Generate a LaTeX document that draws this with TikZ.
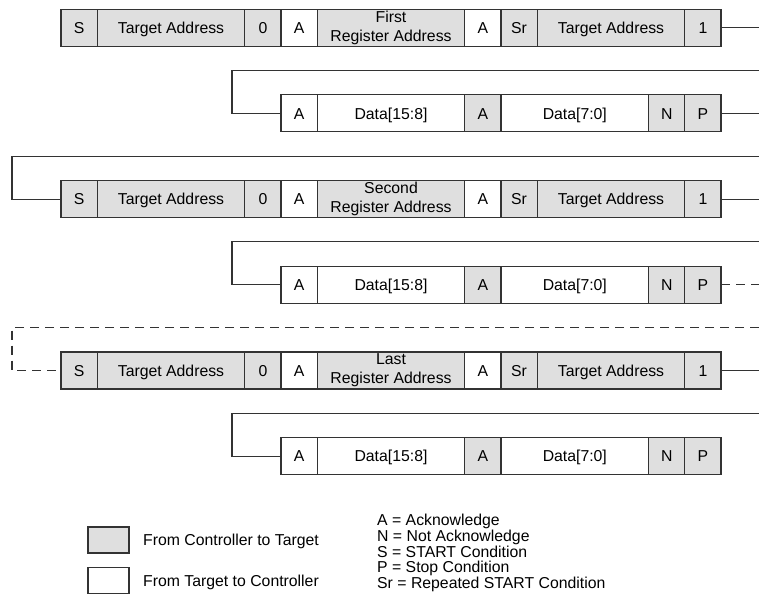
\documentclass[tikz,border=0pt]{standalone}
\usepackage{fontspec}
\setmainfont{Liberation Sans}
\usetikzlibrary{positioning}

\begin{document}
\begin{tikzpicture}[
  x=1pt, y=-1pt,
  every node/.style={align=center, inner sep=0pt, font=\fontsize{15.8}{19}\selectfont},
  cell/.style={draw=black!80, line width=1.1pt, minimum height=37pt, outer sep=0pt},
  nbox/.style={cell, minimum width=36.2pt, text height=11.3pt, text depth=0pt},
  wbox/.style={cell, minimum width=147.6pt, text height=11.3pt, text depth=0pt},
  rbox/.style={cell, minimum width=147.6pt},
  ctl/.style={fill=gray!25},
  note/.style={text height=11.3pt, text depth=0pt},
  link/.style={draw=black!80, line width=1.1pt},
  gap/.style={link, dash pattern=on 9pt off 6pt}
]
\useasboundingbox (0,0) rectangle (759,607);
% Row 1: write first register address, read back
\node[nbox, ctl, anchor=west] (s1) at (61,27.7) {S};
\node[wbox, ctl, right=0pt of s1] (ta1) {Target Address};
\node[nbox, ctl, right=0pt of ta1] (w1) {0};
\node[nbox, right=0pt of w1] (a1) {A};
\node[rbox, ctl, right=0pt of a1] (reg1) {First\\Register Address};
\node[nbox, right=0pt of reg1] (ra1) {A};
\node[nbox, ctl, right=0pt of ra1] (sr1) {Sr};
\node[wbox, ctl, right=0pt of sr1] (tb1) {Target Address};
\node[nbox, ctl, right=0pt of tb1] (rd1) {1};
% Row 2
\node[nbox, anchor=west] (da2) at (281,113.4) {A};
\node[wbox, right=0pt of da2] (hi2) {Data[15:8]};
\node[nbox, ctl, right=0pt of hi2] (ha2) {A};
\node[wbox, right=0pt of ha2] (lo2) {Data[7:0]};
\node[nbox, ctl, right=0pt of lo2] (n2) {N};
\node[nbox, ctl, right=0pt of n2] (p2) {P};
% Row 3
\node[nbox, ctl, anchor=west] (s3) at (61,199.1) {S};
\node[wbox, ctl, right=0pt of s3] (ta3) {Target Address};
\node[nbox, ctl, right=0pt of ta3] (w3) {0};
\node[nbox, right=0pt of w3] (a3) {A};
\node[rbox, ctl, right=0pt of a3] (reg3) {Second\\Register Address};
\node[nbox, right=0pt of reg3] (ra3) {A};
\node[nbox, ctl, right=0pt of ra3] (sr3) {Sr};
\node[wbox, ctl, right=0pt of sr3] (tb3) {Target Address};
\node[nbox, ctl, right=0pt of tb3] (rd3) {1};
% Row 4
\node[nbox, anchor=west] (da4) at (281,284.8) {A};
\node[wbox, right=0pt of da4] (hi4) {Data[15:8]};
\node[nbox, ctl, right=0pt of hi4] (ha4) {A};
\node[wbox, right=0pt of ha4] (lo4) {Data[7:0]};
\node[nbox, ctl, right=0pt of lo4] (n4) {N};
\node[nbox, ctl, right=0pt of n4] (p4) {P};
% Row 5
\node[nbox, ctl, anchor=west] (s5) at (61,370.5) {S};
\node[wbox, ctl, right=0pt of s5] (ta5) {Target Address};
\node[nbox, ctl, right=0pt of ta5] (w5) {0};
\node[nbox, right=0pt of w5] (a5) {A};
\node[rbox, ctl, right=0pt of a5] (reg5) {Last\\Register Address};
\node[nbox, right=0pt of reg5] (ra5) {A};
\node[nbox, ctl, right=0pt of ra5] (sr5) {Sr};
\node[wbox, ctl, right=0pt of sr5] (tb5) {Target Address};
\node[nbox, ctl, right=0pt of tb5] (rd5) {1};
% Row 6
\node[nbox, anchor=west] (da6) at (281,456.2) {A};
\node[wbox, right=0pt of da6] (hi6) {Data[15:8]};
\node[nbox, ctl, right=0pt of hi6] (ha6) {A};
\node[wbox, right=0pt of ha6] (lo6) {Data[7:0]};
\node[nbox, ctl, right=0pt of lo6] (n6) {N};
\node[nbox, ctl, right=0pt of n6] (p6) {P};
% Line ends at the page edge
\coordinate (o1) at (759,27.7);
\coordinate (i2) at (759,70.4);  \coordinate (k2) at (232,70.4);
\coordinate (o2) at (759,113.4);
\coordinate (i3) at (759,156.1); \coordinate (k3) at (12,156.1);
\coordinate (o3) at (759,199.1);
\coordinate (i4) at (759,241.8); \coordinate (k4) at (232,241.8);
\coordinate (o4) at (759,284.8);
\coordinate (i5) at (759,327.5); \coordinate (k5) at (12,327.5);
\coordinate (o5) at (759,370.5);
\coordinate (i6) at (759,413.2); \coordinate (k6) at (232,413.2);
% Lines
\draw[link] (rd1) -- (o1);
\draw[link] (i2) -- (k2) |- (da2);
\draw[link] (p2) -- (o2);
\draw[link] (i3) -- (k3) |- (s3);
\draw[link] (rd3) -- (o3);
\draw[link] (i4) -- (k4) |- (da4);
\draw[gap] (p4) -- (o4);
\draw[gap] (i5) -- (k5) |- (s5);
\draw[link] (rd5) -- (o5);
\draw[link] (i6) -- (k6) |- (da6);
% Legend
\node[cell, ctl, minimum width=41pt, minimum height=26pt] (kc) at (108.5,540) {};
\node[cell, minimum width=41pt, minimum height=26pt] (kt) at (108.5,580.5) {};
\node[note, right=14pt of kc] (kct) {From Controller to Target};
\node[note, right=14pt of kt] (ktt) {From Target to Controller};
\node[align=left, anchor=north west, font=\fontsize{15.8}{15.6}\selectfont] (abbr) at (377,514.2)
  {A = Acknowledge\\N = Not Acknowledge\\S = START Condition\\P = Stop Condition\\Sr = Repeated START Condition};
\end{tikzpicture}
\end{document}
